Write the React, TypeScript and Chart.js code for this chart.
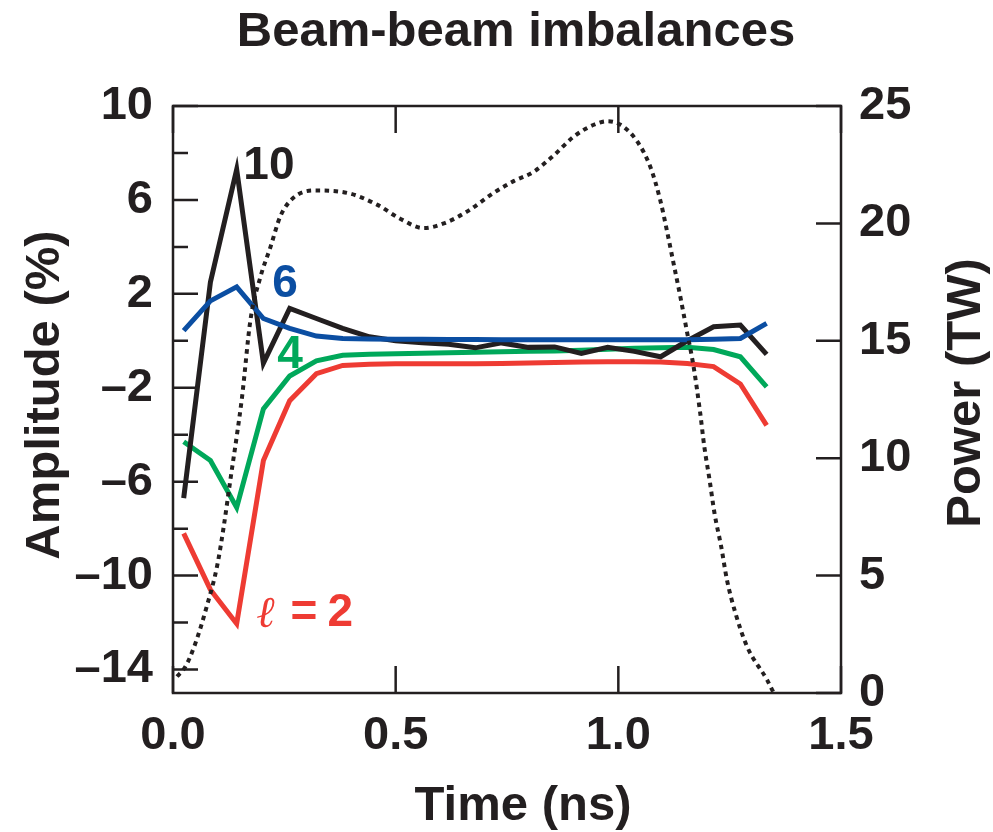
import React, { useEffect, useRef } from 'react';
import { Chart, registerables } from 'chart.js';

Chart.register(...registerables);

// ---- Data ----
const times = [0.024, 0.084, 0.143, 0.203, 0.262, 0.322, 0.381, 0.441, 0.5, 0.56, 0.619, 0.679, 0.738, 0.798, 0.857, 0.917, 0.976, 1.036, 1.095, 1.155, 1.214, 1.274, 1.333];
const mode10 = [-6.7, 2.5, 7.3, -0.95, 1.38, 0.95, 0.53, 0.17, 0.0, -0.08, -0.15, -0.3, -0.09, -0.28, -0.26, -0.54, -0.28, -0.45, -0.68, 0.0, 0.6, 0.67, -0.58];
const mode6 = [0.43, 1.7, 2.3, 0.95, 0.53, 0.2, 0.1, 0.08, 0.07, 0.07, 0.06, 0.06, 0.05, 0.05, 0.05, 0.05, 0.05, 0.05, 0.05, 0.05, 0.07, 0.1, 0.74];
const mode4 = [-4.3, -5.1, -7.1, -2.9, -1.5, -0.85, -0.62, -0.57, -0.55, -0.53, -0.51, -0.49, -0.47, -0.45, -0.43, -0.4, -0.36, -0.32, -0.3, -0.28, -0.37, -0.68, -1.96];
const mode2 = [-8.2, -10.6, -12.05, -5.1, -2.55, -1.4, -1.05, -1.0, -0.98, -0.98, -0.98, -0.98, -0.97, -0.95, -0.92, -0.9, -0.89, -0.89, -0.9, -0.97, -1.1, -1.84, -3.6];

const powerTimes = [0.009, 0.028, 0.05, 0.076, 0.099, 0.114, 0.129, 0.144, 0.155, 0.174, 0.196, 0.219, 0.241, 0.271, 0.316, 0.391, 0.458, 0.51, 0.563, 0.608, 0.66, 0.72, 0.765, 0.81, 0.855, 0.9, 0.945, 0.975, 1.005, 1.042, 1.072, 1.094, 1.109, 1.124, 1.139, 1.154, 1.169, 1.184, 1.193, 1.205, 1.216, 1.231, 1.244, 1.263, 1.289, 1.334, 1.349];
const powerValues = [0.7, 1.13, 2.1, 3.7, 5.4, 7.1, 9.1, 11.05, 12.6, 15.9, 17.7, 19.0, 20.3, 21.1, 21.4, 21.3, 20.8, 20.2, 19.8, 20.0, 20.5, 21.3, 21.8, 22.2, 22.9, 23.7, 24.2, 24.35, 24.2, 23.5, 22.4, 21.0, 19.7, 18.3, 16.9, 15.4, 13.9, 11.9, 10.5, 9.06, 7.65, 6.23, 4.81, 3.4, 1.98, 0.56, 0.0];

const xTicks = [0, 0.5, 1.0, 1.5];
const ampTicks = [-14, -10, -6, -2, 2, 6, 10];
const ampMinorTicks = [-12, -8, -4, 0, 4, 8];
const powerTicks = [0, 5, 10, 15, 20, 25];

const titleText = 'Beam-beam imbalances';
const xTitle = 'Time (ns)';
const yTitle = 'Amplitude (%)';
const y1Title = 'Power (TW)';

const INK = '#231f20';
const C10 = '#231f20';
const C6 = '#0b4ea2';
const C4 = '#00a85a';
const C2 = '#ee3b33';

const FONT = '"Liberation Sans", Arial, Helvetica, sans-serif';

const pts = (xs: number[], ys: number[]) => xs.map((x, i) => ({ x, y: ys[i] }));

const fmtAmp = (v: number) => (v < 0 ? '\u2013' + Math.abs(v) : String(v));

const decorPlugin = {
  id: 'decor',
  beforeDatasetsDraw(chart: any) {
    const { ctx, chartArea: a, scales } = chart;
    ctx.save();
    ctx.strokeStyle = INK;
    ctx.lineWidth = 2.5;
    ctx.lineCap = 'butt';
    ctx.strokeRect(a.left, a.top, a.right - a.left, a.bottom - a.top);
    ctx.beginPath();
    xTicks.forEach((v) => {
      const px = scales.x.getPixelForValue(v);
      ctx.moveTo(px, a.bottom);
      ctx.lineTo(px, a.bottom - 27);
      ctx.moveTo(px, a.top);
      ctx.lineTo(px, a.top + 27);
    });
    ampTicks.forEach((v) => {
      const py = scales.y.getPixelForValue(v);
      ctx.moveTo(a.left, py);
      ctx.lineTo(a.left + 25, py);
    });
    ampMinorTicks.forEach((v) => {
      const py = scales.y.getPixelForValue(v);
      ctx.moveTo(a.left, py);
      ctx.lineTo(a.left + 15, py);
    });
    powerTicks.forEach((v) => {
      const py = scales.y1.getPixelForValue(v);
      ctx.moveTo(a.right, py);
      ctx.lineTo(a.right - 25, py);
    });
    ctx.stroke();
    ctx.restore();
  },
  afterDraw(chart: any) {
    const { ctx, chartArea: a, scales } = chart;
    ctx.save();
    ctx.fillStyle = INK;
    ctx.textBaseline = 'middle';
    ctx.textAlign = 'center';
    ctx.font = `bold 49px ${FONT}`;
    ctx.fillText(titleText, 516, 32);
    ctx.fillText(xTitle, (a.left + a.right) / 2 + 16, 806);
    ctx.save();
    ctx.translate(45, 395);
    ctx.rotate(-Math.PI / 2);
    ctx.fillText(yTitle, 0, 0);
    ctx.restore();
    ctx.save();
    ctx.translate(966, 393);
    ctx.rotate(-Math.PI / 2);
    ctx.fillText(y1Title, 0, 0);
    ctx.restore();

    ctx.textAlign = 'left';
    ctx.font = `bold 46px ${FONT}`;
    const lab = (t: string, x: number, y: number, c: string) => {
      ctx.fillStyle = c;
      ctx.fillText(t, scales.x.getPixelForValue(x), scales.y.getPixelForValue(y));
    };
    lab('10', 0.158, 7.43, C10);
    lab('6', 0.223, 2.4, C6);
    lab('4', 0.234, -0.6, C4);
    let px = scales.x.getPixelForValue(0.187);
    const py = scales.y.getPixelForValue(-11.6);
    ctx.fillStyle = C2;
    ctx.font = `italic 44px "DejaVu Serif", serif`;
    ctx.fillText('\u2113', px, py + 2);
    px += ctx.measureText('\u2113').width + 16;
    ctx.font = `bold 46px ${FONT}`;
    ctx.fillText('=', px, py);
    px += ctx.measureText('=').width + 10;
    ctx.fillText('2', px, py);
    ctx.restore();
  },
};

export default function App() {
  const ref = useRef<HTMLCanvasElement>(null);
  useEffect(() => {
    if (!ref.current) return;
    const tickFont = { family: FONT, size: 47, weight: 'bold' as const };
    const lineDs = (label: string, ys: number[], color: string, order: number) => ({
      label,
      data: pts(times, ys),
      yAxisID: 'y',
      borderColor: color,
      borderWidth: 5,
      pointRadius: 0,
      order,
    });
    const chart = new Chart(ref.current, {
      type: 'line',
      data: {
        datasets: [
          {
            label: 'Power',
            data: pts(powerTimes, powerValues),
            yAxisID: 'y1',
            borderColor: INK,
            borderWidth: 4,
            borderDash: [4.5, 4.5],
            pointRadius: 0,
            cubicInterpolationMode: 'monotone',
            order: 0,
          },
          lineDs('l=6', mode6, C6, 1),
          lineDs('l=10', mode10, C10, 2),
          lineDs('l=4', mode4, C4, 3),
          lineDs('l=2', mode2, C2, 4),
        ],
      },
      options: {
        animation: false,
        responsive: false,
        devicePixelRatio: 1,
        layout: { padding: { top: 106, left: 0, right: 0, bottom: 0 } },
        plugins: { legend: { display: false }, tooltip: { enabled: false }, title: { display: false } },
        elements: { line: { borderJoinStyle: 'miter', borderCapStyle: 'butt' } },
        scales: {
          x: {
            type: 'linear',
            min: 0,
            max: 1.5,
            afterBuildTicks: (s: any) => {
              s.ticks = xTicks.map((v) => ({ value: v }));
            },
            afterFit: (s: any) => {
              s.height = 139;
            },
            ticks: {
              callback: (v: any) => Number(v).toFixed(1),
              font: tickFont,
              color: INK,
              padding: 15,
              maxRotation: 0,
              autoSkip: false,
            },
            grid: { display: false, drawTicks: false },
            border: { display: false },
          },
          y: {
            type: 'linear',
            position: 'left',
            min: -15,
            max: 10,
            afterBuildTicks: (s: any) => {
              s.ticks = ampTicks.map((v) => ({ value: v }));
            },
            afterFit: (s: any) => {
              s.width = 173;
            },
            ticks: {
              callback: (v: any) => fmtAmp(Number(v)),
              font: tickFont,
              color: INK,
              padding: 20,
              autoSkip: false,
            },
            grid: { display: false, drawTicks: false },
            border: { display: false },
          },
          y1: {
            type: 'linear',
            position: 'right',
            min: 0,
            max: 25,
            afterBuildTicks: (s: any) => {
              s.ticks = powerTicks.map((v) => ({ value: v }));
            },
            afterFit: (s: any) => {
              s.width = 152;
            },
            ticks: {
              callback: (v: any) => String(v),
              font: tickFont,
              color: INK,
              padding: 18,
              autoSkip: false,
            },
            grid: { display: false, drawTicks: false },
            border: { display: false },
          },
        },
      },
      plugins: [decorPlugin],
    } as any);
    return () => chart.destroy();
  }, []);

  return (
    <div style={{ position: 'absolute', left: 0, top: 0, width: 993, height: 832, background: '#fff' }}>
      <canvas ref={ref} width={993} height={832} style={{ display: 'block', width: 993, height: 832 }} />
    </div>
  );
}
